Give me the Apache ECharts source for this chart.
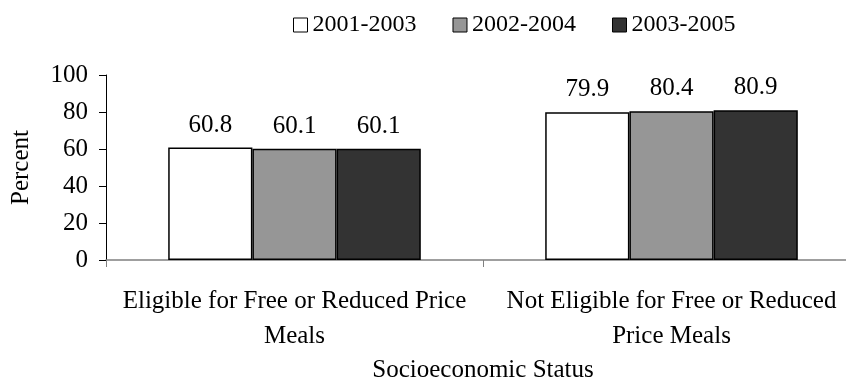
<!DOCTYPE html>
<html>
<head>
<meta charset="utf-8">
<script src="https://cdn.jsdelivr.net/npm/echarts@6/dist/echarts.min.js"></script>
<style>
  html, body { margin: 0; padding: 0; background: #fff; }
  #main { width: 846px; height: 383px; }
</style>
</head>
<body>
<div id="main"></div>
<script>
// 数据
var categories = ['Eligible for Free or Reduced Price\nMeals', 'Not Eligible for Free or Reduced\nPrice Meals'];
var seriesNames = ['2001-2003', '2002-2004', '2003-2005'];
var values2001 = [60.8, 79.9];
var values2002 = [60.1, 80.4];
var values2003 = [60.1, 80.9];
var yTicks = [0, 20, 40, 60, 80, 100];

var barColors = ['#ffffff', '#969696', '#333333'];
var fontFamily = '"Liberation Serif", "Times New Roman", serif';
var fs = 25;

var myChart = echarts.init(document.getElementById('main'));

function makeSeries(name, data, color) {
  return {
    name: name,
    type: 'bar',
    data: data,
    barGap: '0%',
    barCategoryGap: '33%',
    itemStyle: {
      color: color,
      borderColor: '#000',
      borderWidth: 1.5
    },
    label: {
      show: true,
      position: 'top',
      distance: 10,
      color: '#000',
      fontFamily: fontFamily,
      fontSize: fs,
      formatter: function (p) { return p.value.toFixed(1); }
    }
  };
}

var option = {
  animation: false,
  textStyle: { fontFamily: fontFamily, color: '#000' },
  legend: {
    top: 8,
    left: 288,
    itemWidth: 14,
    itemHeight: 14,
    itemGap: 36,
    textStyle: { fontFamily: fontFamily, fontSize: 24, color: '#000' },
    data: seriesNames.map(function (n) {
      return { name: n, icon: 'rect', itemStyle: { borderColor: '#000', borderWidth: 1 } };
    })
  },
  grid: {
    left: 106,
    right: -14,
    top: 75,
    bottom: 123,
    containLabel: false,
    outerBoundsMode: 'none'
  },
  xAxis: {
    type: 'category',
    data: categories,
    name: 'Socioeconomic Status',
    nameLocation: 'middle',
    nameGap: 98,
    nameTextStyle: { fontFamily: fontFamily, fontSize: fs, color: '#000' },
    axisLine: { lineStyle: { color: '#808080', width: 1.5 } },
    axisTick: { show: true, alignWithLabel: false, length: 7, lineStyle: { color: '#808080' } },
    axisLabel: {
      margin: 24,
      fontFamily: fontFamily,
      fontSize: fs,
      lineHeight: 35,
      color: '#000',
      interval: 0
    }
  },
  yAxis: {
    type: 'value',
    min: yTicks[0],
    max: yTicks[yTicks.length - 1],
    interval: 20,
    name: 'Percent',
    nameLocation: 'middle',
    nameGap: 72,
    nameRotate: 90,
    nameTextStyle: { fontFamily: fontFamily, fontSize: fs, color: '#000' },
    axisLine: { show: true, lineStyle: { color: '#000', width: 1 } },
    axisTick: { show: true, length: 7, lineStyle: { color: '#000' } },
    splitLine: { show: false },
    axisLabel: {
      margin: 18,
      fontFamily: fontFamily,
      fontSize: fs,
      color: '#000'
    }
  },
  series: [
    makeSeries(seriesNames[0], values2001, barColors[0]),
    makeSeries(seriesNames[1], values2002, barColors[1]),
    makeSeries(seriesNames[2], values2003, barColors[2])
  ]
};

myChart.setOption(option);
</script>
</body>
</html>
